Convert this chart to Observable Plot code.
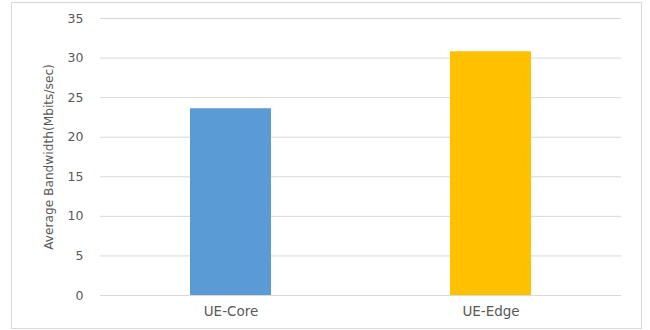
<!DOCTYPE html>
<html>
<head>
<meta charset="utf-8">
<script src="https://cdn.jsdelivr.net/npm/d3@7"></script>
<script src="https://cdn.jsdelivr.net/npm/@observablehq/plot@0.6"></script>
<style>
  html, body { margin: 0; padding: 0; background: #fff; }
  #wrap { position: relative; width: 650px; height: 330px; }
  #border { position: absolute; left: 11px; top: 2px; width: 631px; height: 327px; border: 1px solid #d9d9d9; box-sizing: border-box; pointer-events: none; }
</style>
</head>
<body>
<div id="wrap"><div id="border"></div></div>
<script>
const categories = ["UE-Core", "UE-Edge"];
const bandwidth = [23.6, 30.8];
const colors = ["#5B9BD5", "#FFC000"];
const yTicks = [0, 5, 10, 15, 20, 25, 30, 35];

const data = categories.map((c, i) => ({category: c, value: bandwidth[i]}));

const chart = Plot.plot({
  width: 650,
  height: 330,
  marginLeft: 100,
  marginRight: 29,
  marginTop: 18,
  marginBottom: 35,
  style: {fontFamily: "'DejaVu Sans', sans-serif", fontSize: "12.5px", color: "#595959", background: "transparent"},
  x: {domain: categories, paddingInner: 0.689, paddingOuter: 0.3445},
  y: {domain: [0, 35]},
  color: {domain: categories, range: colors},
  marks: [
    Plot.gridY(yTicks, {stroke: "#d9d9d9", strokeOpacity: 1}),
    Plot.barY(data, {x: "category", y: "value", fill: "category"}),
    Plot.axisY(yTicks, {tickSize: 0, tickPadding: 17, label: null}),
    Plot.axisY({ticks: [], tickSize: 0, label: "Average Bandwidth(Mbits/sec)", labelAnchor: "center", labelArrow: "none", labelOffset: 56, fontSize: 12.2}),
    Plot.axisX({tickSize: 0, tickPadding: 11, label: null, fontSize: 13.5})
  ]
});
document.getElementById("wrap").prepend(chart);
</script>
</body>
</html>
